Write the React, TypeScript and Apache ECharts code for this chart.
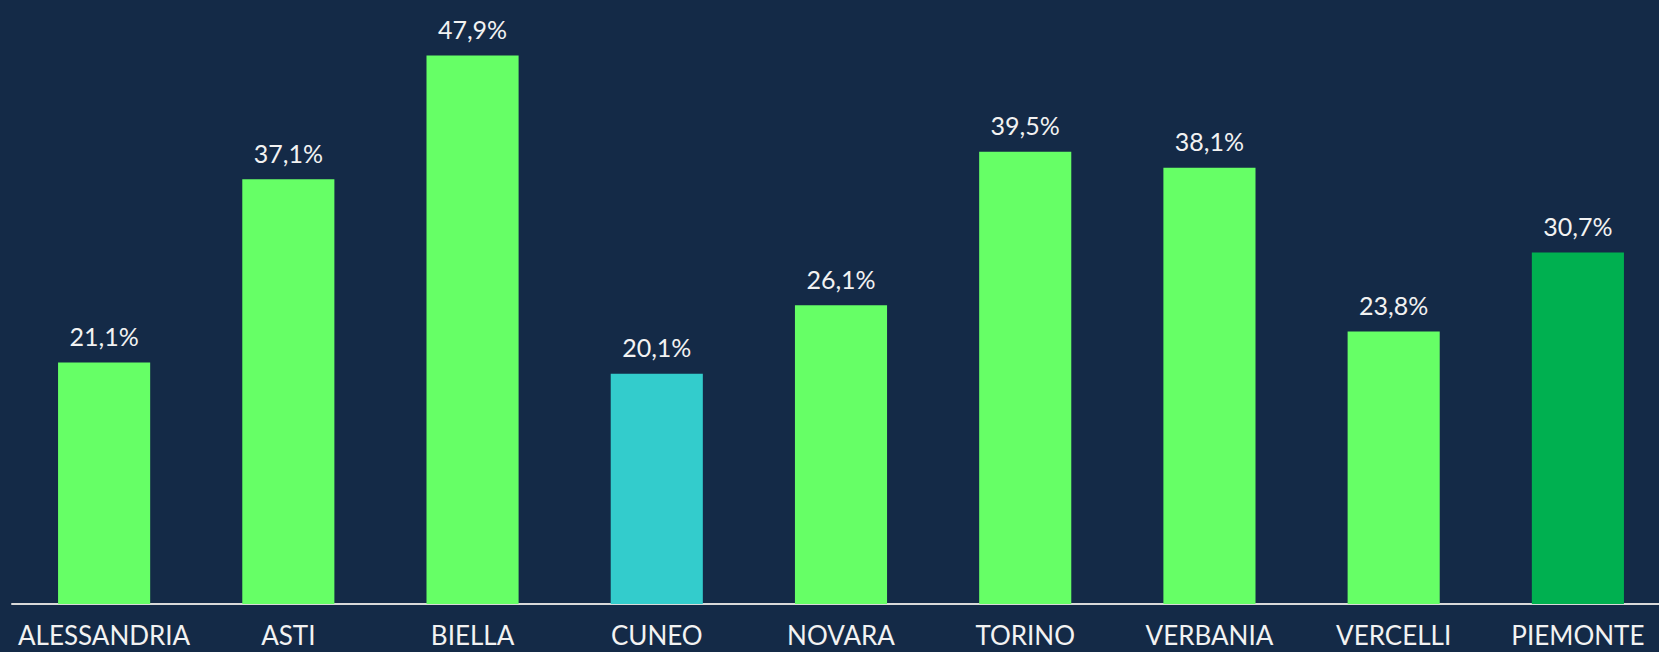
import React, { useEffect, useRef } from "react";
import * as echarts from "echarts";

const categories = ["ALESSANDRIA", "ASTI", "BIELLA", "CUNEO", "NOVARA", "TORINO", "VERBANIA", "VERCELLI", "PIEMONTE"];
const values = [21.1, 37.1, 47.9, 20.1, 26.1, 39.5, 38.1, 23.8, 30.7];
const barColors = ["#66FF66", "#66FF66", "#66FF66", "#33CCCC", "#66FF66", "#66FF66", "#66FF66", "#66FF66", "#00B050"];

const FONT = "Lato, 'Open Sans', sans-serif";

export default function App() {
  const ref = useRef<HTMLDivElement>(null);
  useEffect(() => {
    if (!ref.current) return;
    const chart = echarts.init(ref.current, undefined, { renderer: "svg" });
    chart.setOption({
      animation: false,
      backgroundColor: "#142A47",
      grid: { left: 12, top: 31.5, width: 1658, bottom: 48, containLabel: false },
      xAxis: {
        type: "category",
        data: categories,
        axisLine: { show: true, lineStyle: { color: "#D9D9D9", width: 2 } },
        axisTick: { show: false },
        axisLabel: {
          interval: 0,
          color: "#F2F2F2",
          fontFamily: FONT,
          fontSize: 26,
          margin: 18,
        },
      },
      yAxis: {
        type: "value",
        min: 0,
        max: 50,
        show: false,
        splitLine: { show: false },
      },
      series: [
        {
          type: "bar",
          barCategoryGap: "50%",
          data: values.map((v, i) => ({ value: v, itemStyle: { color: barColors[i] } })),
          label: {
            show: true,
            position: "top",
            distance: 14,
            color: "#F2F2F2",
            fontFamily: FONT,
            fontSize: 25,
            formatter: (p: any) => p.value.toFixed(1).replace(".", ",") + "%",
          },
        },
      ],
    });
    return () => chart.dispose();
  }, []);
  return (
    <div
      style={{
        position: "absolute",
        left: 0,
        top: 0,
        width: 1659,
        height: 652,
        overflow: "hidden",
        background: "#142A47",
      }}
    >
      <div ref={ref} style={{ width: 1700, height: 652 }} />
    </div>
  );
}
